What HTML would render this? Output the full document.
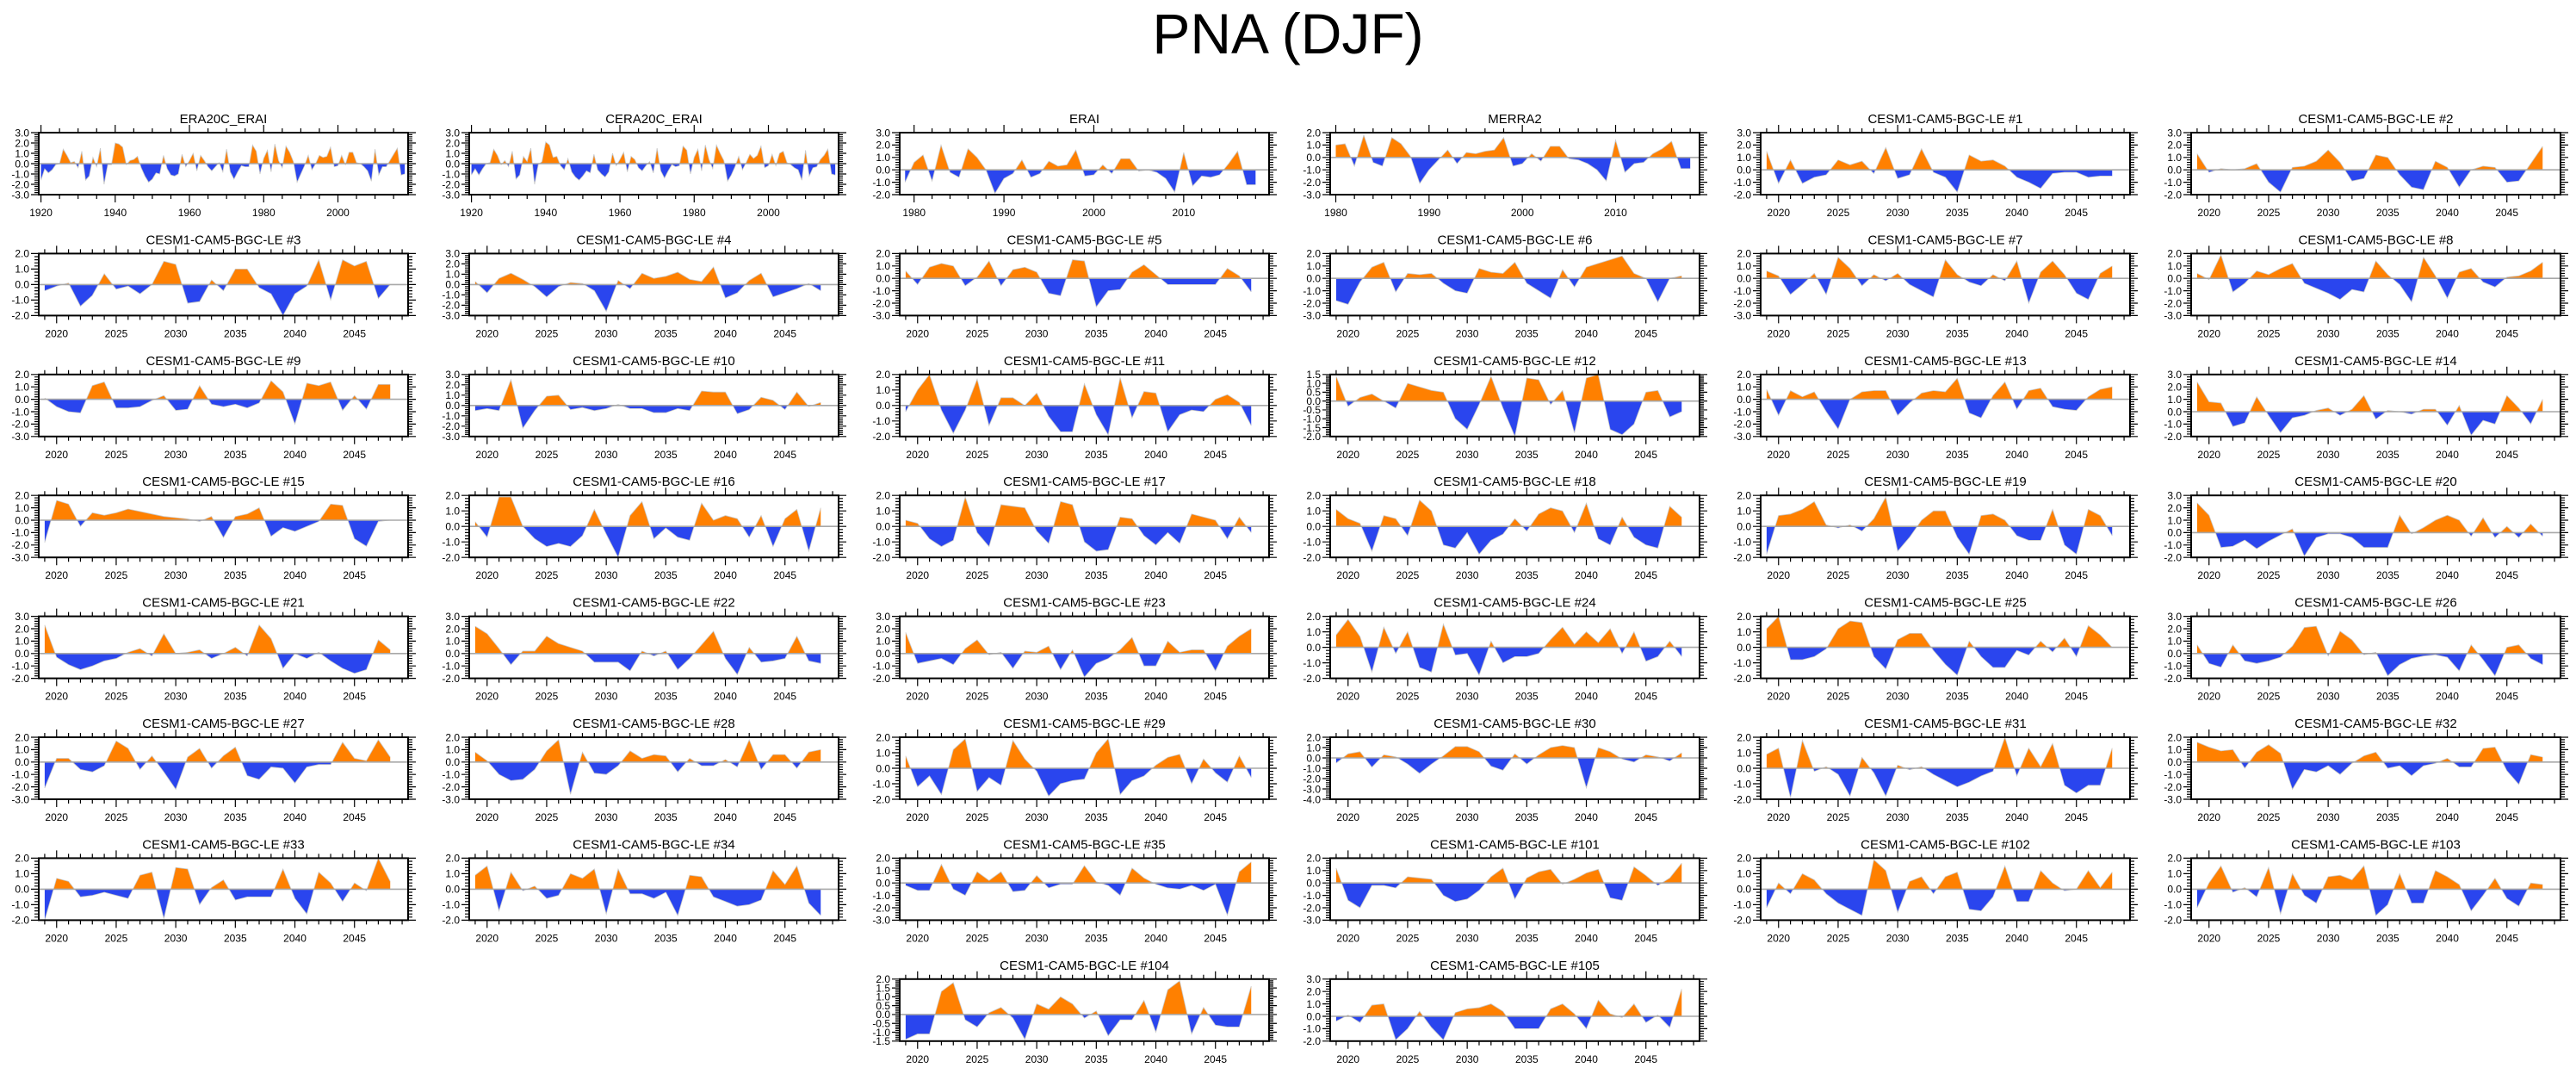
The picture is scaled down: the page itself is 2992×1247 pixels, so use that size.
<!DOCTYPE html>
<html><head><meta charset="utf-8"><title>PNA (DJF)</title>
<style>
html,body{margin:0;padding:0;background:#fff;}
body{width:2992px;height:1242px;overflow:hidden;font-family:"Liberation Sans",Arial,sans-serif;}
svg text{font-family:"Liberation Sans",Arial,sans-serif;}
</style></head>
<body>
<svg id="fig" width="2992" height="1242" viewBox="0 0 2992 1242" xmlns="http://www.w3.org/2000/svg">
<text x="1496" y="62" text-anchor="middle" font-size="66" fill="#000">PNA (DJF)</text>
</svg>
<script>
// ---- data (PNA index, DJF) ----
const era20c = [-1.6,-0.5,-0.9,-0.6,-0.1,0.0,1.4,0.8,0.1,0.2,-0.4,1.2,-1.6,-1.2,0.6,-0.3,1.5,-2.0,-0.1,-0.1,2.0,1.9,1.6,-0.1,0.3,0.4,0.7,-0.4,-1.2,-1.8,-1.5,-0.9,-1.0,0.8,-0.5,-1.1,-1.2,-1.0,0.9,-0.3,0.3,1.0,-0.7,0.8,0.3,-0.3,-0.7,-0.3,0.1,-0.8,1.4,-0.8,-1.5,-0.8,-0.2,-0.3,-0.3,1.8,1.2,-1.0,0.5,1.3,-0.8,1.9,0.3,-0.4,1.7,1.1,0.2,-1.8,-1.0,-0.2,0.8,-0.6,0.0,0.8,0.6,0.7,1.6,-0.3,-0.2,0.8,-0.1,1.1,1.1,0.1,0.0,-0.3,-0.7,-1.7,1.4,-1.1,-0.3,-0.3,0.3,0.9,1.5,-1.1,-1.0];
const cera20c = [-1.1,-0.5,-1.1,-0.5,0.0,0.1,1.4,0.8,-0.1,0.3,-0.3,1.2,-1.5,-1.1,0.7,0.2,1.5,-2.0,-0.1,0.2,2.1,1.8,0.6,0.7,-0.2,-0.6,0.5,-0.8,-1.3,-1.6,-1.2,-0.7,-0.9,0.9,-0.6,-1.0,-1.3,-0.8,1.0,-0.2,0.4,1.1,-0.8,0.7,0.4,-0.4,-0.7,-0.2,0.2,-0.9,1.5,-0.7,-1.4,-0.7,-0.1,-0.3,-0.2,1.7,1.3,-1.0,0.6,1.4,-0.7,1.8,0.4,-0.5,1.8,1.0,0.3,-1.7,-1.1,-0.3,0.7,-0.6,0.1,0.9,0.5,0.8,1.7,-0.4,-0.2,0.9,-0.2,1.0,1.2,0.1,-0.1,-0.4,-0.6,-1.6,1.3,-1.2,-0.4,-0.3,0.4,0.8,1.4,-1.0,-1.1];
const erai = [-1.0,0.6,1.2,-0.9,2.0,-0.2,-0.6,1.7,1.0,0.0,-1.9,-0.7,-0.3,0.8,-0.6,-0.3,0.7,0.3,0.4,1.6,-0.5,-0.4,0.4,-0.3,0.9,0.9,-0.1,0.0,-0.2,-0.7,-1.8,1.4,-1.3,-0.5,-0.6,-0.4,0.5,1.5,-1.2,-1.2];
const merra2 = [1.0,1.1,-0.7,1.8,-0.4,-0.7,1.6,1.1,0.1,-2.1,-1.0,-0.2,0.6,-0.5,0.4,0.3,0.5,0.6,1.6,-0.7,-0.5,0.3,-0.3,0.9,0.9,-0.1,-0.2,-0.5,-1.0,-1.9,1.4,-1.2,-0.5,-0.4,0.3,0.7,1.3,-0.9,-0.9];
const m1 = [1.5,-1.1,0.8,-1.1,-0.6,-0.4,0.8,0.4,0.7,-0.3,1.8,-0.7,-0.4,1.7,-0.2,-0.6,-1.8,1.2,0.7,0.8,0.3,-0.6,-1.0,-1.5,-0.3,-0.2,-0.2,-0.6,-0.5,-0.5];
const m2 = [1.3,-0.2,0.1,0.0,0.1,0.5,-1.0,-1.8,0.2,0.3,0.7,1.6,0.6,-0.9,-0.7,1.2,1.0,-0.4,-1.4,-1.6,0.7,0.2,-1.4,0.0,0.3,0.2,-1.0,-0.9,0.5,1.9];
const m3 = [-0.4,-0.1,0.1,-1.4,-0.7,0.7,-0.3,-0.1,-0.6,0.0,1.5,1.3,-1.2,-1.1,0.3,-0.4,1.0,1.0,-0.2,-0.6,-2.0,-0.6,-0.1,1.6,-1.0,1.6,1.2,1.5,-0.9,0.0];
const m4 = [0.3,-0.8,0.6,1.1,0.5,-0.2,-1.2,-0.2,0.2,0.1,-0.6,-2.6,0.4,-0.4,1.1,0.6,0.8,1.2,0.5,0.3,1.7,-1.3,-0.8,0.4,1.1,-1.2,-0.8,-0.4,0.1,-0.6];
const m5 = [0.6,-0.5,0.9,1.2,1.0,-0.6,0.1,1.4,-0.6,0.7,0.9,0.5,-1.2,-1.4,1.5,1.4,-2.3,-1.0,-0.9,0.5,1.1,0.3,-0.5,-0.5,-0.5,-0.5,-0.5,0.8,0.2,-1.1];
const m6 = [-1.8,-2.1,-0.3,0.9,1.3,-1.1,0.4,0.3,0.4,-0.4,-1.0,-1.2,0.8,0.5,0.4,1.3,-0.4,-1.0,-1.6,0.7,-0.7,0.9,1.2,1.5,1.8,0.4,0.0,-1.9,0.0,0.2];
const m7 = [0.6,0.2,-1.3,-0.5,0.4,-1.3,1.7,0.8,-0.6,0.3,-0.2,0.4,-0.5,-1.0,-1.5,1.5,0.3,-0.3,-0.6,0.3,-0.2,1.4,-2.0,0.5,1.4,0.3,-1.2,-1.7,0.4,1.0];
const m8 = [0.4,-0.1,1.9,-1.1,-0.4,0.6,0.3,0.8,1.2,-0.4,-0.8,-1.2,-1.7,-0.9,-1.1,1.4,0.3,-0.5,-1.9,1.7,0.2,-1.6,0.5,0.8,-0.3,-0.7,0.1,0.2,0.6,1.3];
const m9 = [0.1,-0.6,-1.0,-1.1,1.1,1.4,-0.7,-0.7,-0.6,-0.1,0.3,-0.9,-0.8,1.1,-0.4,-0.6,-0.4,-0.7,-0.3,1.5,0.6,-2.0,1.3,1.1,1.4,-0.9,0.3,-0.8,1.2,1.2];
const m10 = [-0.5,-0.3,-0.5,2.5,-2.2,-0.5,0.9,1.0,-0.4,-0.2,-0.5,-0.3,0.1,-0.3,-0.3,-0.7,-0.7,-0.3,-0.5,1.4,1.3,1.3,-0.8,-0.4,0.8,0.5,-0.4,1.3,-0.1,0.3];
const m11 = [-0.4,1.0,2.0,-0.3,-1.8,-0.3,1.7,-1.3,0.5,0.5,0.0,0.8,-0.7,-1.7,-1.7,1.4,-0.6,-1.9,1.8,-0.8,0.9,0.8,-1.7,-0.6,-0.3,-0.4,0.4,0.7,0.2,-1.3];
const m12 = [1.4,-0.3,0.2,0.4,0.0,-0.4,1.0,0.8,0.6,0.5,-1.0,-1.6,-0.2,1.4,-0.4,-2.0,1.3,1.2,-0.2,0.6,-1.8,1.3,1.5,-1.6,-1.9,-1.3,0.5,0.6,-0.9,-0.6];
const m13 = [0.8,-1.3,0.7,0.2,0.6,-1.0,-2.4,0.0,0.6,0.7,0.7,-1.3,-0.3,0.5,0.7,0.6,1.7,-1.1,-1.5,0.3,1.4,-0.8,0.7,0.9,-0.6,-0.8,-0.9,0.2,0.8,1.0];
const m14 = [2.4,0.8,0.7,-1.2,-0.9,1.2,-0.3,-1.7,-0.5,-0.3,0.1,0.3,-0.3,0.2,1.3,-0.6,0.1,0.0,-0.2,0.2,0.2,-1.1,0.5,-1.9,-0.7,-1.0,1.3,0.3,-1.0,1.0];
const m15 = [-1.8,1.6,1.3,-0.5,0.6,0.4,0.6,0.9,0.7,0.5,0.3,0.2,0.1,-0.1,0.3,-1.4,0.3,0.5,1.0,-1.3,-0.6,-0.9,-0.5,-0.1,1.3,1.2,-1.5,-2.1,-0.1,0.0];
const m16 = [0.3,-0.7,1.9,1.9,0.0,-0.8,-1.3,-1.1,-1.3,-0.6,1.1,-0.5,-2.0,0.7,1.6,-0.8,-0.1,-0.7,-0.9,1.5,0.4,0.7,0.5,-0.7,0.7,-1.3,0.5,1.1,-1.6,1.2];
const m17 = [0.4,0.2,-0.8,-1.3,-0.9,1.9,-0.4,-1.3,1.4,1.3,1.2,-0.3,-1.1,1.6,1.4,-1.0,-1.6,-1.5,0.6,0.5,-0.6,-1.2,-0.4,-1.1,0.8,0.6,0.4,-0.8,0.6,-0.4];
const m18 = [1.1,0.5,0.2,-1.6,0.7,0.5,-0.6,1.7,1.0,-1.2,-1.4,-0.4,-1.8,-0.9,-0.5,0.5,-0.3,0.8,1.2,1.0,-0.4,1.5,-0.8,-1.2,0.6,-0.7,-1.2,-1.4,1.3,0.6];
const m19 = [-1.8,0.7,0.8,1.1,1.6,0.1,-0.1,0.1,-0.3,0.5,1.9,-1.6,-0.7,0.4,1.0,1.0,-0.7,-1.8,0.7,0.8,0.4,-0.6,-0.9,-0.9,1.1,-1.2,-1.8,1.1,0.7,-0.6];
const m20 = [2.4,1.4,-1.2,-1.1,-0.6,-1.3,-0.7,-0.2,0.3,-1.9,-0.4,-0.1,-0.1,-0.4,-1.2,-1.2,-1.2,1.4,-0.1,0.4,1.0,1.4,1.0,-0.3,1.2,-0.4,0.5,-0.4,0.7,-0.3];
const m21 = [2.3,-0.3,-0.9,-1.3,-1.0,-0.6,-0.4,0.1,0.4,-0.2,1.6,0.0,0.1,0.3,-0.4,0.0,0.5,-0.2,2.3,1.2,-1.2,0.0,-0.4,0.1,-0.6,-1.2,-1.6,-1.3,1.1,0.3];
const m22 = [2.2,1.6,0.4,-0.9,0.2,0.2,1.4,0.8,0.5,0.2,-0.7,-0.7,-0.7,-1.4,0.2,-0.2,0.2,-1.3,-0.4,0.7,1.8,-0.4,-1.7,0.5,-0.7,-0.6,-0.4,1.4,-0.6,-0.8];
const m23 = [1.7,-0.8,-0.6,-0.4,-0.9,0.4,1.1,-0.1,0.1,-1.2,0.2,0.1,0.6,-1.3,0.3,-1.9,-0.8,-0.4,0.3,1.3,-1.0,-1.0,1.0,0.1,0.3,0.3,-1.4,0.6,1.4,2.0];
const m24 = [0.8,1.8,0.7,-1.6,1.3,-0.4,1.0,-1.3,-1.6,1.5,-0.5,-0.4,-1.8,0.4,-1.0,-0.6,-0.6,-0.4,0.5,1.3,0.2,1.0,0.3,1.2,-0.4,1.0,-0.9,-0.6,0.4,-0.6];
const m25 = [1.2,2.0,-0.8,-0.8,-0.6,-0.1,1.2,1.7,1.6,-0.6,-1.4,0.5,0.9,0.9,-0.2,-1.1,-1.8,0.4,-0.6,-1.3,-1.3,-0.2,-0.5,0.4,-0.3,0.6,-0.6,1.4,0.8,0.0];
const m26 = [0.7,-0.8,-1.1,0.7,-0.6,-0.8,-0.6,-0.3,0.6,2.1,2.2,-0.2,1.8,1.1,-0.1,0.1,-1.8,-0.9,-0.4,-0.2,-0.1,-0.3,-1.4,0.7,-0.5,-1.8,0.5,0.7,-0.4,-0.9];
const m27 = [-2.1,0.3,0.3,-0.6,-0.8,-0.3,1.7,1.1,-0.6,0.5,-0.8,-2.2,0.4,1.1,-0.5,0.5,1.2,-1.1,-1.4,-0.4,-0.5,-1.7,-0.4,-0.2,-0.2,1.6,0.3,0.1,1.8,0.4];
const m28 = [0.8,0.1,-1.0,-1.5,-1.4,-0.6,0.9,1.8,-2.6,0.8,-0.9,-1.0,-0.3,0.9,0.3,0.6,0.5,-0.8,0.3,-0.3,-0.3,0.2,-0.4,1.8,-0.6,0.6,0.6,-0.5,0.8,1.0];
const m29 = [0.8,-1.2,-0.5,-1.7,1.2,1.9,-1.5,-0.6,-1.1,1.8,0.6,-0.2,-1.8,-1.0,-0.8,-0.7,1.0,1.9,-1.7,-0.8,-0.5,0.2,0.7,0.9,-1.0,0.6,-0.3,-0.9,0.8,-0.6];
const m30 = [-0.5,0.4,0.6,-0.9,0.3,0.1,-0.6,-1.5,-0.6,0.2,1.1,1.1,0.6,-0.8,-1.2,0.4,-0.6,0.3,1.0,1.2,1.0,-2.9,1.0,0.6,-0.1,-0.4,0.3,0.1,-0.3,0.5];
const m31 = [0.9,1.3,-1.9,1.8,-0.2,0.1,-0.4,-1.8,0.7,-0.3,-1.8,0.2,-0.1,0.1,-0.4,-0.8,-1.2,-0.9,-0.5,-0.2,2.0,-0.5,1.3,0.1,1.6,-1.1,-1.6,-1.1,-1.1,1.3];
const m32 = [1.6,1.2,0.9,1.0,-0.5,0.8,1.4,0.7,-2.2,-0.6,-0.8,-0.3,-1.0,-0.1,0.5,0.8,-0.5,-0.3,-1.1,-0.3,-0.1,0.3,-0.4,-0.4,1.1,1.2,-0.7,-1.8,0.6,0.4];
const m33 = [-2.0,0.7,0.5,-0.5,-0.4,-0.2,-0.4,-0.6,0.9,1.1,-1.9,1.4,1.3,-1.0,0.1,0.6,-0.7,-0.5,-0.5,-0.5,1.3,-0.6,-1.6,1.1,0.4,-0.8,0.4,-0.1,2.0,0.5];
const m34 = [0.9,1.5,-1.4,1.1,-0.1,0.2,-0.6,-0.4,1.0,0.7,1.3,-1.6,1.3,-0.3,-0.3,-0.6,-0.2,-1.7,0.9,0.8,-0.5,-0.8,-1.1,-1.0,-0.7,1.2,0.3,1.5,-0.9,-1.7];
const m35 = [-0.2,-0.6,-0.6,1.5,-0.5,-1.0,0.9,0.2,0.9,-0.7,-0.6,0.6,-0.4,-0.1,-0.1,1.4,0.1,-0.2,-1.0,1.2,0.4,-0.1,-0.4,-0.5,-0.2,-0.6,-0.1,-2.6,0.9,1.7];
const m101 = [1.2,-1.4,-2.0,-0.2,-0.2,-0.4,0.5,0.4,0.3,-1.0,-1.5,-1.3,-0.6,0.5,1.2,-1.3,0.4,0.9,1.1,-0.1,0.3,0.8,1.1,-1.2,-1.4,1.3,0.6,-0.2,0.4,1.6];
const m102 = [-1.2,0.4,-0.3,1.0,0.6,-0.3,-0.9,-1.3,-1.7,1.9,1.2,-1.5,0.5,0.8,-0.3,0.8,1.1,-1.3,-1.4,-0.5,1.5,-0.8,-0.8,1.2,0.4,-0.1,0.0,1.2,0.1,1.1];
const m103 = [-1.2,0.4,1.5,-0.2,0.1,-0.5,1.4,-1.6,1.0,-0.4,-0.9,0.8,0.9,0.6,1.5,-1.7,-1.0,1.0,-0.9,-0.9,1.2,0.8,0.3,-1.4,-0.4,0.7,-0.6,-1.1,0.4,0.3];
const m104 = [-1.4,-1.1,-1.1,1.3,1.8,-0.3,-0.7,0.1,0.4,-0.2,-1.4,0.6,0.3,1.0,0.6,-0.2,0.2,-1.2,-0.3,-0.3,0.8,-1.0,1.4,1.9,-1.1,0.4,-0.6,-0.7,-0.7,1.6];
const m105 = [-0.4,0.1,-0.5,0.9,1.0,-1.9,-1.0,0.4,-0.9,-1.9,0.3,0.6,0.7,1.0,0.4,-1.0,-1.0,-1.0,0.6,1.0,0.2,-1.0,1.3,0.2,-0.1,1.0,-0.5,0.1,-0.9,2.2];

const titles = ["ERA20C_ERAI","CERA20C_ERAI","ERAI","MERRA2","#1","#2","#3","#4","#5","#6","#7","#8","#9","#10","#11","#12","#13","#14","#15","#16","#17","#18","#19","#20","#21","#22","#23","#24","#25","#26","#27","#28","#29","#30","#31","#32","#33","#34","#35","#101","#102","#103","#104","#105"];
const series = [era20c,cera20c,erai,merra2,m1,m2,m3,m4,m5,m6,m7,m8,m9,m10,m11,m12,m13,m14,m15,m16,m17,m18,m19,m20,m21,m22,m23,m24,m25,m26,m27,m28,m29,m30,m31,m32,m33,m34,m35,m101,m102,m103,m104,m105];
const startYears = [1920,1920,1979,1980];
const yMins = [-3,-3,-2,-3,-2,-2,-2,-3,-3,-3,-3,-3,-3,-3,-2,-2,-3,-2,-3,-2,-2,-2,-2,-2,-2,-2,-2,-2,-2,-2,-3,-3,-2,-4,-2,-3,-2,-2,-3,-3,-2,-2,-1.5,-2];
const yMaxs = [3,3,3,2,3,3,2,3,2,2,2,2,2,3,2,1.5,2,3,2,2,2,2,2,3,3,3,3,2,2,3,2,2,2,2,2,2,2,2,2,2,2,2,2,3];

// ---- layout ----
const NS = "http://www.w3.org/2000/svg";
const svg = document.getElementById("fig");
const BW = 429, BH = 72;
function mk(tag, attrs, parent){ const e=document.createElementNS(NS,tag); for(const k in attrs) e.setAttribute(k,attrs[k]); parent.appendChild(e); return e; }

function panelPos(i){
  if(i < 42){ return {c: i%6, r: Math.floor(i/6)}; }
  return {c: i===42?2:3, r: 7};
}

series.forEach((data, i) => {
  const p = panelPos(i);
  const bx = 45 + 500*p.c, by = 154 + 140.4*p.r;
  let xmin, xmax, x0, majStep, minStep, labFrom, labTo;
  if(i<2){ xmin=1919.4; xmax=2018.9; x0=1920; majStep=20; minStep=5; labFrom=1920; labTo=2000; }
  else if(i===2){ xmin=1978.4; xmax=2019.5; x0=1979; majStep=10; minStep=2; labFrom=1980; labTo=2010; }
  else if(i===3){ xmin=1979.4; xmax=2019.0; x0=1980; majStep=10; minStep=2; labFrom=1980; labTo=2010; }
  else { xmin=2018.5; xmax=2049.5; x0=2019; majStep=5; minStep=1; labFrom=2020; labTo=2045; }
  const ymin = yMins[i], ymax = yMaxs[i];
  const ystep = (ymax-ymin) <= 3.5 && (i===15 || i===42) ? 0.5 : 1.0;
  const yminor = ystep===0.5 ? 0.1 : 0.2;
  const X = v => bx + (v - xmin) / (xmax - xmin) * BW;
  const Y = v => by + (ymax - v) / (ymax - ymin) * BH;

  const g = mk("g", {}, svg);
  
  

  const full = i < 4 ? titles[i] : "CESM1-CAM5-BGC-LE " + titles[i];
  const t = mk("text", {x: bx+BW/2, y: by-11, "text-anchor":"middle", "font-size":15, fill:"#000"}, g);
  t.textContent = full;
  
  

  // clip paths
  const cid = "c"+i;
  const defs = mk("defs", {}, g);
  const cpU = mk("clipPath", {id: cid+"u"}, defs);
  mk("rect", {x: bx, y: by, width: BW, height: Y(0)-by}, cpU);
  const cpD = mk("clipPath", {id: cid+"d"}, defs);
  mk("rect", {x: bx, y: Y(0), width: BW, height: by+BH-Y(0)}, cpD);

  let pts = `${X(x0).toFixed(2)},${Y(0).toFixed(2)} `;
  data.forEach((v,k) => { pts += `${X(x0+k).toFixed(2)},${Y(v).toFixed(2)} `; });
  pts += `${X(x0+data.length-1).toFixed(2)},${Y(0).toFixed(2)}`;

  const pos = mk("polygon", {points: pts, fill: "#ff8000", "clip-path": `url(#${cid}u)`}, g);
  
  
  const neg = mk("polygon", {points: pts, fill: "#2a45ee", "clip-path": `url(#${cid}d)`}, g);
  
  
  let lp = "";
  data.forEach((v,k) => { lp += `${X(x0+k).toFixed(2)},${Y(v).toFixed(2)} `; });
  const ln = mk("polyline", {points: lp, fill:"none", stroke:"#c8c8c8", "stroke-width":0.8}, g);
  
  

  const zl = mk("line", {x1: bx, x2: bx+BW, y1: Y(0), y2: Y(0), stroke:"#a8a8a8", "stroke-width":1.6}, g);
  
  

  // x ticks
  let tk = "";
  const first = Math.ceil(xmin/minStep)*minStep;
  for(let v=first; v<=xmax+1e-9; v+=minStep){
    const x = X(v).toFixed(2);
    const major = Math.abs(v/majStep - Math.round(v/majStep)) < 1e-9;
    const L = major ? 9 : 5;
    tk += `M${x},${by}v${-L}M${x},${by+BH}v${L}`;
  }
  // y ticks
  const nMin = Math.round((ymax-ymin)/yminor);
  for(let k=0;k<=nMin;k++){
    const v = ymin + k*yminor;
    const y = Y(v).toFixed(2);
    const major = Math.abs(v/ystep - Math.round(v/ystep)) < 1e-6;
    const L = major ? 9 : 5;
    tk += `M${bx},${y}h${-L}M${bx+BW},${y}h${L}`;
  }
  const ticks = mk("path", {d: tk, stroke:"#000", "stroke-width":1.2, fill:"none"}, g);
  
  

  const box = mk("rect", {x: bx, y: by, width: BW, height: BH, fill:"none", stroke:"#000", "stroke-width":2}, g);
  
  

  for(let v=labFrom; v<=labTo; v+=majStep){
    const tx = mk("text", {x: X(v), y: by+BH+25, "text-anchor":"middle", "font-size":12, fill:"#000"}, g);
    tx.textContent = String(v);
    
    
  }
  const nMaj = Math.round((ymax-ymin)/ystep);
  for(let k=0;k<=nMaj;k++){
    const v = ymin + k*ystep;
    const ty = mk("text", {x: bx-11, y: Y(v)+4.3, "text-anchor":"end", "font-size":12, fill:"#000"}, g);
    ty.textContent = v.toFixed(1);
    
    
  }
});
</script>
</body></html>
